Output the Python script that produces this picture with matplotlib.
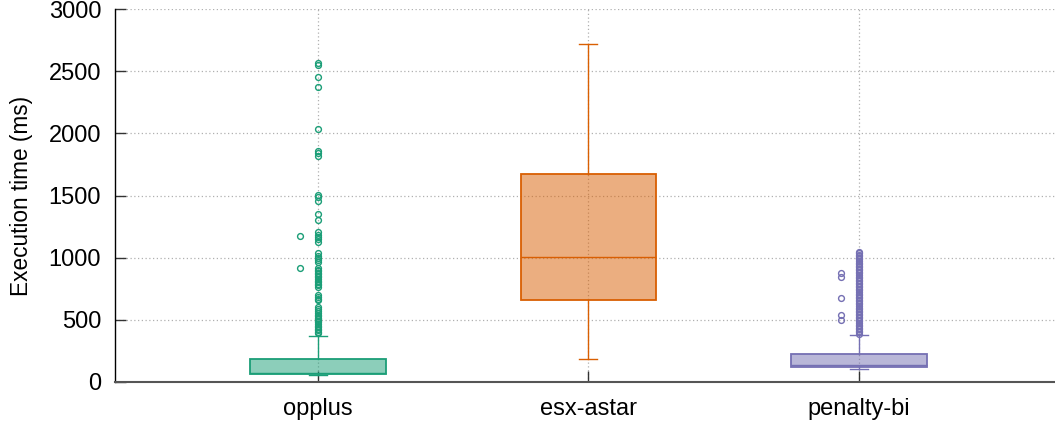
import matplotlib
matplotlib.use("Agg")
import matplotlib.pyplot as plt

plt.rcParams['font.family'] = ['Liberation Sans', 'DejaVu Sans']

categories = ["opplus", "esx-astar", "penalty-bi"]
edge_colors = ["#1b9e77", "#d95f02", "#7570b3"]

# box statistics (ms)
whisker_low = [55, 183, 100]
q1 = [62, 658, 116]
median = [70, 1002, 137]
q3 = [183, 1671, 221]
whisker_high = [366, 2723, 376]

# outliers on the box axis
outliers_opplus = [390, 402, 415, 428, 440, 452, 465, 478, 490, 503, 515, 528, 540,
                   555, 570, 585, 604, 658, 670, 685, 698, 765, 778, 790, 802, 815,
                   828, 840, 852, 865, 878, 890, 902, 913, 967, 980, 994, 1010,
                   1034, 1128, 1147, 1168, 1185, 1204, 1303, 1349, 1458, 1490, 1502,
                   1818, 1840, 1858, 2038, 2372, 2452, 2551, 2565]
outliers_esx = []
outliers_penalty = [385, 398, 410, 422, 435, 447, 460, 472, 485, 497, 510, 522, 535,
                    547, 560, 572, 585, 597, 610, 622, 635, 647, 660, 672, 685, 697,
                    710, 722, 735, 747, 760, 772, 785, 797, 810, 822, 835, 847, 860,
                    872, 885, 897, 910, 922, 935, 947, 960, 972, 985, 997, 1010,
                    1022, 1034, 1045]
# overlapping outliers spread to the side
side_opplus = [915, 1174]
side_esx = []
side_penalty = [497, 537, 674, 841, 873]

outliers = [outliers_opplus, outliers_esx, outliers_penalty]
side_outliers = [side_opplus, side_esx, side_penalty]

yticks = [0, 500, 1000, 1500, 2000, 2500, 3000]

fig = plt.figure(figsize=(10.55, 4.25), dpi=100)
ax = fig.add_axes([115 / 1055, 1 - 381.7 / 425, 1 - 115 / 1055, (381.7 - 9.3) / 425])

positions = list(range(1, len(categories) + 1))
stats = []
for i, name in enumerate(categories):
    stats.append(dict(label=name, whislo=whisker_low[i], q1=q1[i], med=median[i],
                      q3=q3[i], whishi=whisker_high[i], fliers=[]))

bp = ax.bxp(stats, positions=positions, widths=0.5, capwidths=0.067,
            patch_artist=True, showfliers=False, zorder=3)
for i, c in enumerate(edge_colors):
    bp['boxes'][i].set_facecolor(matplotlib.colors.to_rgba(c, 0.5))
    bp['boxes'][i].set_edgecolor(c)
    bp['boxes'][i].set_linewidth(1.3)
    bp['medians'][i].set_color(c)
    bp['medians'][i].set_linewidth(1.0)
    for w in bp['whiskers'][2 * i:2 * i + 2]:
        w.set_color(c)
        w.set_linewidth(1.0)
    for cap in bp['caps'][2 * i:2 * i + 2]:
        cap.set_color(c)
        cap.set_linewidth(1.0)

for i, c in enumerate(edge_colors):
    if outliers[i]:
        ax.plot([positions[i]] * len(outliers[i]), outliers[i], linestyle='none',
                marker='o', markersize=4.2, markerfacecolor='none',
                markeredgecolor=c, markeredgewidth=1.0, zorder=4)
    if side_outliers[i]:
        ax.plot([positions[i] - 0.067] * len(side_outliers[i]), side_outliers[i],
                linestyle='none', marker='o', markersize=4.2, markerfacecolor='none',
                markeredgecolor=c, markeredgewidth=1.0, zorder=4)

ax.set_xlim(0.25, 3.725)
ax.set_ylim(0, 3000)
ax.set_yticks(yticks)
ax.set_xticks(positions)
ax.set_xticklabels(categories)
ax.tick_params(axis='both', direction='in', length=8, width=1, color='#333333',
               labelsize=17)
ax.tick_params(axis='x', pad=12)
ax.tick_params(axis='y', pad=10)
ax.set_ylabel("Execution time (ms)", fontsize=16.3, labelpad=11)

ax.grid(True, color='#b0b0b0', linestyle=(0, (1, 2)), linewidth=0.9, zorder=0)
ax.set_axisbelow(True)
for s in ['top', 'right']:
    ax.spines[s].set_visible(False)
ax.spines['left'].set_color('black')
ax.spines['left'].set_linewidth(1.0)
ax.spines['bottom'].set_color('#555555')
ax.spines['bottom'].set_linewidth(1.5)

fig.savefig("out.png", dpi=100)
